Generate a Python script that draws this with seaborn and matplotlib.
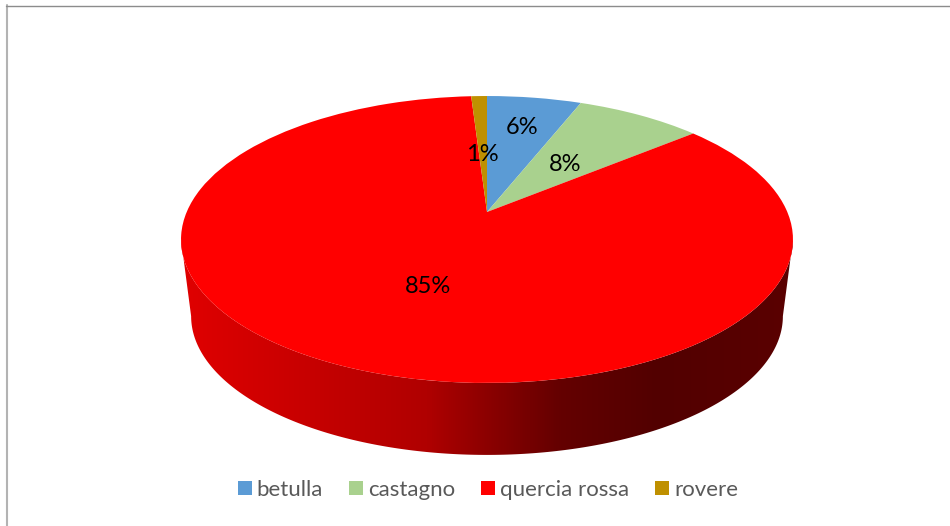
import numpy as np
import seaborn as sns
import matplotlib
matplotlib.use("Agg")
import matplotlib.pyplot as plt
from matplotlib.colors import LinearSegmentedColormap
from matplotlib.lines import Line2D
from matplotlib.patches import Polygon
from matplotlib.transforms import Transform

species = ["betulla", "castagno", "quercia rossa", "rovere"]
shares = [6, 8, 85, 1]
colors = ["#5B9BD5", "#A9D18E", "#FF0000", "#BF9000"]

# Where each percentage sits on the unit disc
label_x = [0.132, 0.278, -0.178, -0.018]
label_y = [0.688, 0.372, -0.486, 0.448]

# Perspective of the tilted disc, in pixels
APEX = (487.0, 212.0)
TILT = 0.1916
HALF_WIDTH = 300.3
HALF_DEPTH = 138.2
WALL_DROP = 77.6
WALL_SCALE = 0.967


def project(xy, drop=0.0, scale=1.0):
    """Map unit-disc coordinates to pixel positions on the tilted disc."""
    xy = np.asarray(xy, dtype=float)
    w = 1.0 + TILT * xy[..., 1]
    px = APEX[0] + scale * HALF_WIDTH * xy[..., 0] / w
    py = APEX[1] - scale * HALF_DEPTH * xy[..., 1] / w + drop
    return np.stack([px, py], axis=-1)


class DiscTransform(Transform):
    input_dims = 2
    output_dims = 2

    def transform_non_affine(self, values):
        return project(values)


sns.set_theme(style="white")
plt.rcParams["font.family"] = ["Lato", "DejaVu Sans"]

fig = plt.figure(figsize=(9.5, 5.26), dpi=100, facecolor="white")
ax = fig.add_axes([0, 0, 1, 1])

palette = sns.color_palette(colors)
wedges, _, autotexts = ax.pie(
    shares,
    colors=palette,
    startangle=90,
    counterclock=False,
    autopct="%.0f%%",
    wedgeprops={"linewidth": 0, "zorder": 3},
    textprops={"fontsize": 17, "color": "black", "zorder": 4},
)

disc = DiscTransform()
for wedge in wedges:
    wedge.set_transform(disc + ax.transData)

for text, x, y in zip(autotexts, label_x, label_y):
    text.set_transform(disc + ax.transData)
    text.set_position((x, y))
    text.set_ha("center")
    text.set_va("center")

# Outer wall: a left-to-right shade clipped to the band below the rim.
# The band runs between the points where the rim is widest on screen.
wall_shade = LinearSegmentedColormap.from_list(
    "wall",
    [(0.00, "#E00000"), (0.20, "#C80000"), (0.40, "#B00000"), (0.50, "#8C0000"),
     (0.62, "#640000"), (0.78, "#520000"), (1.00, "#5A0000")],
)
widest = np.arcsin(TILT)
angles = np.linspace(np.pi + widest, 2 * np.pi - widest, 241)
rim = np.stack([np.cos(angles), np.sin(angles)], axis=-1)
upper = project(rim)
lower = project(rim, drop=WALL_DROP, scale=WALL_SCALE)
left, right = upper[:, 0].min(), upper[:, 0].max()
top, bottom = upper[:, 1].min(), lower[:, 1].max()
wall = ax.imshow(
    np.linspace(0, 1, 512).reshape(1, -1),
    cmap=wall_shade,
    extent=(left, right, bottom, top),
    aspect="auto",
    interpolation="bilinear",
    zorder=2,
)
wall_outline = Polygon(
    np.vstack([upper, lower[::-1]]), closed=True, transform=ax.transData,
    facecolor="none", edgecolor="none",
)
ax.add_patch(wall_outline)
wall.set_clip_path(wall_outline)

ax.set_aspect("auto")
ax.set_xlim(0, 950)
ax.set_ylim(526, 0)
ax.axis("off")

# Chart frame along the top and left edges
ax.add_line(Line2D([6.5, 6.5], [5, 526], color="#B3B3B3", lw=1.5, zorder=1))
ax.add_line(Line2D([6, 950], [5.5, 5.5], color="#8C8C8C", lw=1.0, zorder=1))

legend = ax.legend(
    wedges,
    species,
    ncol=4,
    loc="center",
    bbox_to_anchor=(488 / 950, 1 - 490 / 526),
    frameon=False,
    fontsize=16,
    handlelength=0.63,
    handleheight=0.63,
    handletextpad=0.22,
    columnspacing=1.17,
    labelcolor="#595959",
)

fig.savefig("out.png", dpi=100)
